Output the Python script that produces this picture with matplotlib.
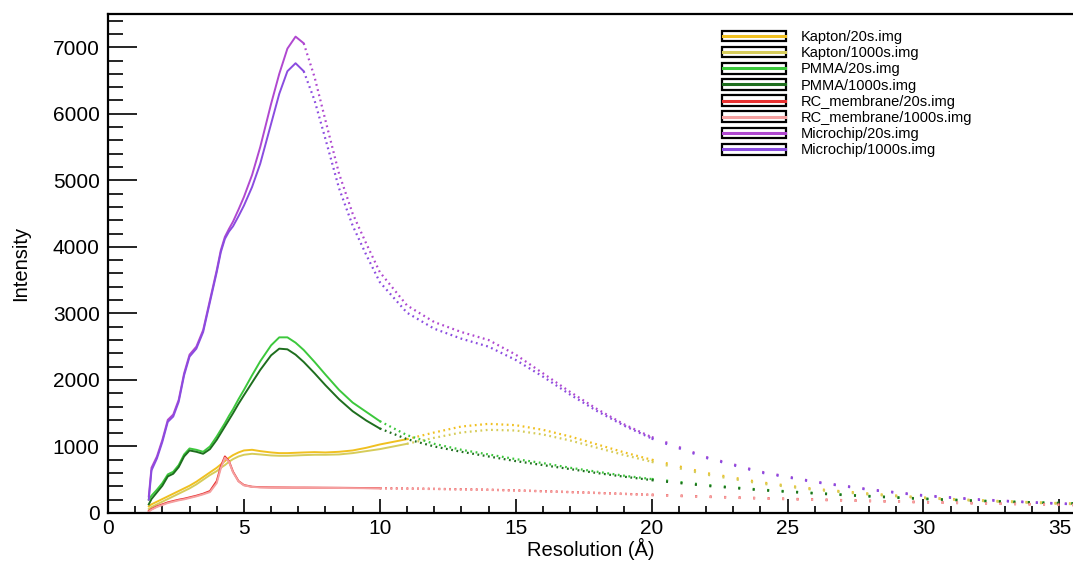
import matplotlib
matplotlib.use('Agg')
import matplotlib.pyplot as plt
import numpy as np
from matplotlib.legend_handler import HandlerBase
from matplotlib.lines import Line2D
from matplotlib.patches import Rectangle
from matplotlib.ticker import MultipleLocator

# resolution grid (A) shared by all series
res = [1.5, 1.6, 1.8, 2.0, 2.2, 2.4, 2.6, 2.8, 3.0, 3.25, 3.5, 3.75, 4.0, 4.15, 4.3, 4.45,
       4.6, 4.8, 5.0, 5.3, 5.6, 6.0, 6.3, 6.6, 6.9, 7.2, 7.6, 8.0, 8.5, 9.0, 9.5, 10,
       11, 12, 13, 14, 15, 16, 17, 18, 19, 20, 22, 24, 26, 28, 30, 32, 34, 35.5]

kapton_20 = [100, 130, 170, 210, 250, 290, 330, 370, 410, 470, 540, 610, 680, 730, 780, 830,
             870, 910, 940, 950, 930, 910, 900, 900, 905, 910, 915, 910, 920, 940, 980, 1030,
             1110, 1210, 1300, 1340, 1320, 1250, 1150, 1030, 910, 800, 600, 460, 360, 290, 230, 190, 160, 140]
kapton_1000 = [60, 90, 130, 170, 210, 250, 290, 330, 370, 430, 500, 570, 630, 680, 720, 770,
               810, 850, 875, 890, 880, 865, 860, 860, 865, 870, 875, 875, 880, 900, 930, 960,
               1040, 1130, 1210, 1250, 1240, 1180, 1090, 980, 870, 770, 580, 445, 350, 280, 225, 185, 155, 135]
pmma_20 = [200, 260, 350, 450, 580, 620, 720, 880, 970, 950, 920, 1000, 1150, 1250, 1350, 1460,
           1560, 1710, 1850, 2070, 2280, 2520, 2640, 2640, 2560, 2450, 2270, 2080, 1850, 1660, 1520, 1380,
           1170, 1040, 950, 880, 810, 750, 680, 620, 560, 510, 420, 350, 300, 255, 215, 185, 160, 145]
pmma_1000 = [130, 210, 310, 410, 550, 590, 690, 850, 940, 920, 890, 960, 1100, 1200, 1300, 1400,
             1500, 1640, 1770, 1960, 2150, 2370, 2470, 2460, 2380, 2270, 2100, 1920, 1710, 1530, 1390, 1270,
             1110, 1000, 920, 850, 780, 720, 660, 600, 545, 495, 410, 345, 295, 250, 212, 182, 158, 143]
rc_20 = [30, 60, 100, 130, 160, 180, 200, 215, 235, 260, 290, 330, 480, 700, 850, 780,
         620, 480, 420, 395, 388, 385, 384, 383, 382, 382, 381, 380, 379, 377, 375, 373,
         368, 363, 357, 350, 340, 328, 315, 302, 288, 273, 246, 222, 202, 182, 163, 147, 132, 122]
rc_1000 = [20, 50, 90, 120, 150, 170, 190, 205, 225, 250, 280, 315, 450, 670, 830, 770,
           610, 475, 415, 392, 385, 382, 381, 380, 379, 379, 378, 377, 376, 374, 372, 370,
           365, 360, 354, 347, 337, 325, 312, 299, 285, 270, 243, 219, 199, 180, 161, 145, 130, 120]
chip_20 = [250, 680, 850, 1100, 1400, 1480, 1700, 2100, 2380, 2500, 2750, 3200, 3650, 3950, 4150, 4270,
           4380, 4560, 4750, 5080, 5500, 6150, 6600, 6980, 7160, 7060, 6550, 5900, 5100, 4500, 4050, 3620,
           3120, 2870, 2720, 2600, 2380, 2100, 1820, 1560, 1330, 1140, 840, 620, 470, 355, 265, 205, 160, 135]
chip_1000 = [200, 640, 820, 1070, 1370, 1450, 1670, 2070, 2350, 2470, 2720, 3170, 3620, 3920, 4120, 4230,
             4310, 4460, 4620, 4900, 5250, 5850, 6300, 6640, 6760, 6640, 6200, 5620, 4880, 4320, 3880, 3470,
             3010, 2770, 2620, 2500, 2300, 2050, 1780, 1530, 1310, 1120, 830, 610, 465, 350, 260, 200, 158, 133]

labels = ['Kapton/20s.img', 'Kapton/1000s.img', 'PMMA/20s.img', 'PMMA/1000s.img',
          'RC_membrane/20s.img', 'RC_membrane/1000s.img', 'Microchip/20s.img', 'Microchip/1000s.img']
series = [kapton_20, kapton_1000, pmma_20, pmma_1000, rc_20, rc_1000, chip_20, chip_1000]
colors = ['#f0c020', '#d6cc5a', '#3cc83c', '#1e6e1e', '#e83030', '#f5a0a0', '#b048d0', '#8a4ce0']
cuts = [11, 11, 10, 10, 10, 10, 7.2, 7.2]


class BoxLine(HandlerBase):
    def create_artists(self, legend, orig_handle, xdescent, ydescent, width, height, fontsize, trans):
        r = Rectangle((-xdescent, -ydescent), width, height, facecolor='white',
                      edgecolor='black', lw=1.6, transform=trans)
        l = Line2D([-xdescent + 1, -xdescent + width - 1], [-ydescent + height / 2] * 2,
                   color=orig_handle.get_color(), lw=2.2, transform=trans)
        return [r, l]


plt.rcParams['font.family'] = ['Liberation Sans', 'DejaVu Sans']
fig = plt.figure(figsize=(10.73, 5.63), dpi=100)
ax = fig.add_axes([108 / 1073, 1 - 513 / 563, 1 - 108 / 1073, (513 - 14) / 563])

x = np.array(res)
handles = []
for ys, c, lab, cut in zip(series, colors, labels, cuts):
    y = np.array(ys)
    m1 = x <= cut
    m2 = (x >= cut) & (x <= 20)
    m3 = x >= 20
    h, = ax.plot(x[m1], y[m1], color=c, lw=1.4, label=lab)
    ax.plot(x[m2], y[m2], color=c, lw=1.6, linestyle=(0, (0.8, 1.6)))
    ax.plot(x[m3], y[m3], color=c, lw=1.8, linestyle=(0, (0.8, 5)))
    handles.append(h)

ax.set_xlim(0, 35.5)
ax.set_ylim(0, 7500)
ax.xaxis.set_major_locator(MultipleLocator(5))
ax.xaxis.set_minor_locator(MultipleLocator(1))
ax.yaxis.set_major_locator(MultipleLocator(1000))
ax.yaxis.set_minor_locator(MultipleLocator(200))
ax.tick_params(axis='both', which='both', direction='in', width=1.2, labelsize=15)
ax.tick_params(axis='y', which='major', length=21, pad=6)
ax.tick_params(axis='y', which='minor', length=11)
ax.tick_params(axis='x', which='major', length=10, pad=4)
ax.tick_params(axis='x', which='minor', length=5)
for s in ['left', 'bottom', 'top']:
    ax.spines[s].set_linewidth(1.6)
ax.spines['right'].set_visible(False)

ax.set_xlabel('Resolution (Å)', fontsize=14.5, labelpad=0)
ax.set_ylabel('Intensity', fontsize=14.5, labelpad=16)

ax.legend(handles=handles, handler_map={Line2D: BoxLine()}, loc='upper left',
          bbox_to_anchor=(0.636, 0.968), frameon=False, fontsize=10.5,
          handlelength=4.4, handleheight=0.75, labelspacing=0.15, handletextpad=1.0,
          borderpad=0, borderaxespad=0)

fig.savefig('out.png', dpi=100)
